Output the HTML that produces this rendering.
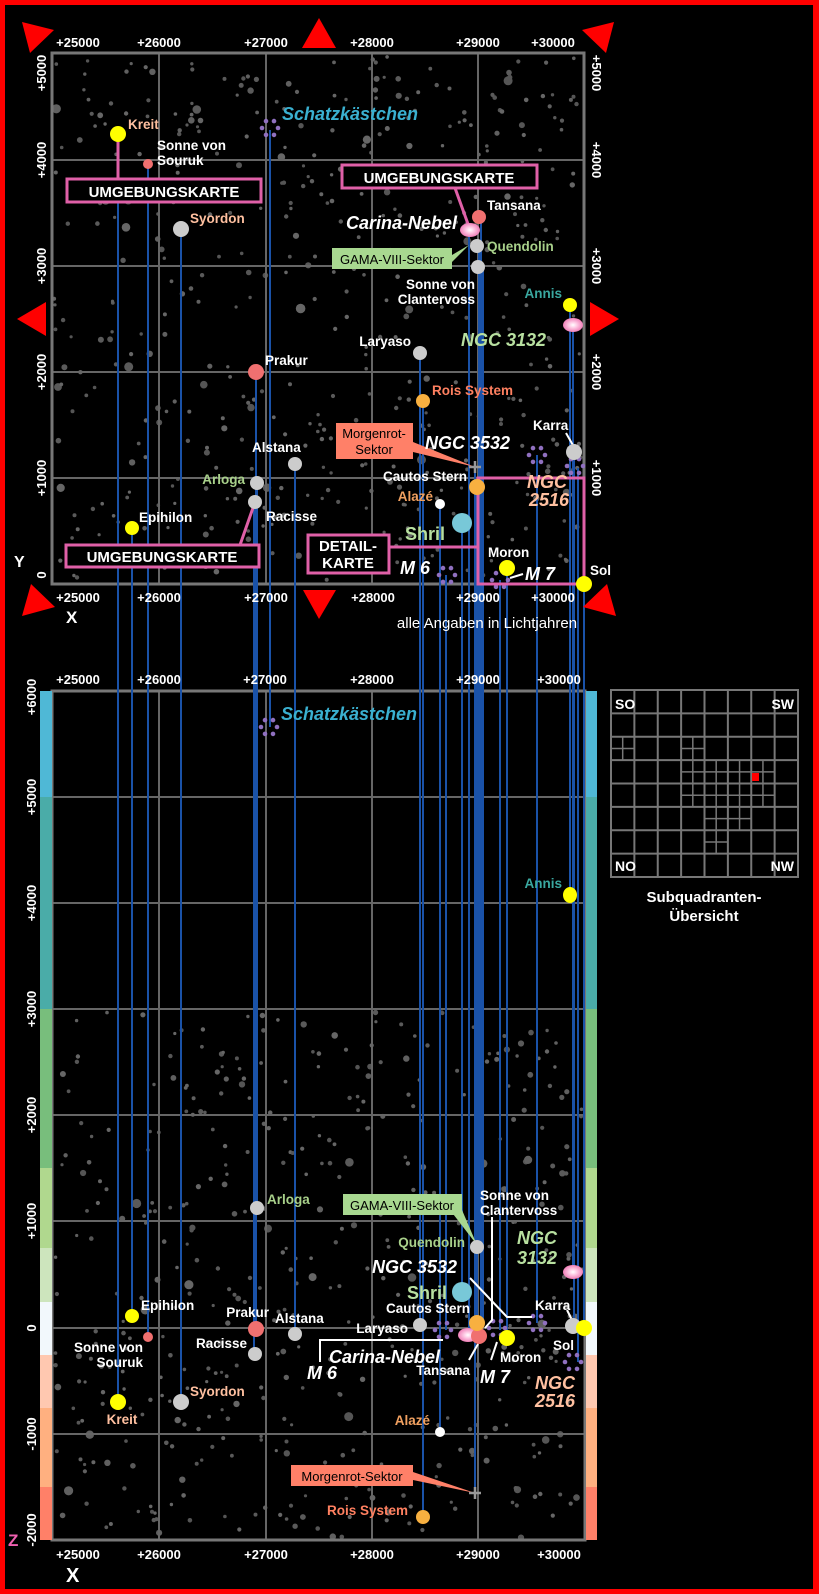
<!DOCTYPE html>
<html><head><meta charset="utf-8">
<style>
html,body{margin:0;padding:0;background:#000;}
svg{display:block;}
text{font-family:"Liberation Sans",sans-serif;font-weight:bold;}
</style></head><body>
<svg id="s" width="819" height="1594" viewBox="0 0 819 1594" xmlns="http://www.w3.org/2000/svg">
<rect x="0" y="0" width="819" height="1594" fill="#f00"/>
<rect x="5" y="5" width="808" height="1584" fill="#000"/>
<g id="stars"></g>
<g id="grid" stroke="#666" stroke-width="2" fill="none">
 <line x1="159" y1="53" x2="159" y2="584"/><line x1="266" y1="53" x2="266" y2="584"/><line x1="372" y1="53" x2="372" y2="584"/><line x1="478" y1="53" x2="478" y2="584"/>
 <line x1="52" y1="160" x2="584" y2="160"/><line x1="52" y1="266" x2="584" y2="266"/><line x1="52" y1="372" x2="584" y2="372"/><line x1="52" y1="478" x2="584" y2="478"/>
 <line x1="159" y1="691" x2="159" y2="1540"/><line x1="266" y1="691" x2="266" y2="1540"/><line x1="372" y1="691" x2="372" y2="1540"/><line x1="478" y1="691" x2="478" y2="1540"/>
 <line x1="52" y1="797" x2="585" y2="797"/><line x1="52" y1="903" x2="585" y2="903"/><line x1="52" y1="1009" x2="585" y2="1009"/><line x1="52" y1="1115" x2="585" y2="1115"/><line x1="52" y1="1221" x2="585" y2="1221"/><line x1="52" y1="1328" x2="585" y2="1328"/><line x1="52" y1="1434" x2="585" y2="1434"/>
</g>
<g stroke="#777" stroke-width="3" fill="none">
 <rect x="52" y="53" width="532" height="531"/>
 <rect x="52" y="691" width="533" height="849"/>
</g>
<g>
 <rect x="40" y="691" width="12" height="106" fill="#4fb8d6"/><rect x="586" y="691" width="11" height="106" fill="#4fb8d6"/>
 <rect x="40" y="797" width="12" height="212" fill="#4aaca8"/><rect x="586" y="797" width="11" height="212" fill="#4aaca8"/>
 <rect x="40" y="1009" width="12" height="159" fill="#78be7c"/><rect x="586" y="1009" width="11" height="159" fill="#78be7c"/>
 <rect x="40" y="1168" width="12" height="80" fill="#b0d88e"/><rect x="586" y="1168" width="11" height="80" fill="#b0d88e"/>
 <rect x="40" y="1248" width="12" height="54" fill="#cde5bd"/><rect x="586" y="1248" width="11" height="54" fill="#cde5bd"/>
 <rect x="40" y="1302" width="12" height="53" fill="#f2f8fc"/><rect x="586" y="1302" width="11" height="53" fill="#f2f8fc"/>
 <rect x="40" y="1355" width="12" height="53" fill="#ffc8b0"/><rect x="586" y="1355" width="11" height="53" fill="#ffc8b0"/>
 <rect x="40" y="1408" width="12" height="79" fill="#ffb080"/><rect x="586" y="1408" width="11" height="79" fill="#ffb080"/>
 <rect x="40" y="1487" width="12" height="53" fill="#ff8068"/><rect x="586" y="1487" width="11" height="53" fill="#ff8068"/>
</g>
<g stroke="#1a52a8" stroke-width="2">
 <line x1="118" y1="134" x2="118" y2="1402"/>
 <line x1="148" y1="164" x2="148" y2="1337"/>
 <line x1="181" y1="229" x2="181" y2="1402"/>
 <line x1="270" y1="130" x2="270" y2="727"/>
 <line x1="256" y1="372" x2="256" y2="1329"/>
 <line x1="257" y1="483" x2="257" y2="1208"/>
 <line x1="254" y1="502" x2="254" y2="1354"/>
 <line x1="295" y1="464" x2="295" y2="1334"/>
 <line x1="132" y1="528" x2="132" y2="1316"/>
 <line x1="420" y1="353" x2="420" y2="1325"/>
 <line x1="423" y1="401" x2="423" y2="1517"/>
 <line x1="440" y1="504" x2="440" y2="1432"/>
 <line x1="462" y1="523" x2="462" y2="1292"/>
 <line x1="475" y1="467" x2="475" y2="1493"/>
 <line x1="477" y1="487" x2="477" y2="1323"/>
 <line x1="537" y1="455" x2="537" y2="1323"/>
 <line x1="574" y1="452" x2="574" y2="1326"/>
 <line x1="578" y1="468" x2="578" y2="1362"/>
 <line x1="584" y1="584" x2="584" y2="1328"/>
 <line x1="507" y1="568" x2="507" y2="1338"/>
 <line x1="500" y1="580" x2="500" y2="1330"/>
 <line x1="446" y1="575" x2="446" y2="1330"/>
 <line x1="469" y1="230" x2="469" y2="1335"/>
 <line x1="481" y1="217" x2="481" y2="1336"/>
 <line x1="479" y1="246" x2="479" y2="1247"/>
 <line x1="483" y1="267" x2="483" y2="1323"/>
 <line x1="570" y1="305" x2="570" y2="895"/>
 <line x1="573" y1="325" x2="573" y2="1272"/>
</g>
<g id="clusters"></g>
<g stroke="#e060a8" stroke-width="3" fill="none">
 <line x1="118" y1="134" x2="118" y2="179"/>
 <line x1="455" y1="188" x2="468" y2="224"/>
 <line x1="240" y1="545" x2="254" y2="505"/>
 <line x1="389" y1="547" x2="478" y2="547"/>
 <rect x="478" y="478" width="106" height="106"/>
</g>
<g stroke="#e060a8" stroke-width="3" fill="#000">
 <rect x="67" y="179" width="194" height="23"/>
 <rect x="342" y="165" width="195" height="23"/>
 <rect x="66" y="545" width="193" height="22"/>
 <rect x="308" y="535" width="81" height="38"/>
</g>
<g fill="#fff" font-size="15" text-anchor="middle">
 <text x="164" y="197">UMGEBUNGSKARTE</text>
 <text x="439" y="183">UMGEBUNGSKARTE</text>
 <text x="162" y="562">UMGEBUNGSKARTE</text>
 <text x="348" y="551">DETAIL-</text>
 <text x="348" y="568">KARTE</text>
</g>
<g stroke="#fff" stroke-width="2" fill="none">
 <line x1="566" y1="433" x2="574" y2="447"/>
 <line x1="510" y1="578" x2="523" y2="574"/>
 <polyline points="470,1278 507,1317 532,1317"/>
 <polyline points="492,1217 492,1320 485,1328"/>
 <polyline points="320,1362 320,1340 443,1340"/>
 <line x1="469" y1="1360" x2="478" y2="1344"/>
 <line x1="491" y1="1360" x2="497" y2="1342"/>
 <line x1="567" y1="1310" x2="572" y2="1320"/>
</g>
<g>
 <polygon points="452,255 469,245 452,262" fill="#a8d890"/>
 <rect x="332" y="248" width="120" height="21" fill="#a8d890"/>
 <text x="392" y="264" font-size="13" fill="#000" text-anchor="middle" style="font-weight:normal">GAMA-VIII-Sektor</text>
 <polygon points="450,1210 462,1210 477,1245" fill="#a8d890"/>
 <rect x="343" y="1194" width="119" height="21" fill="#a8d890"/>
 <text x="402" y="1210" font-size="13" fill="#000" text-anchor="middle" style="font-weight:normal">GAMA-VIII-Sektor</text>
 <polygon points="413,442 413,452 475,467" fill="#ff8068"/>
 <rect x="336" y="423" width="77" height="36" fill="#ff8068"/>
 <text x="374" y="438" font-size="13" fill="#000" text-anchor="middle" style="font-weight:normal">Morgenrot-</text>
 <text x="374" y="454" font-size="13" fill="#000" text-anchor="middle" style="font-weight:normal">Sektor</text>
 <polygon points="413,1472 413,1480 475,1493" fill="#ff8068"/>
 <rect x="291" y="1465" width="122" height="21" fill="#ff8068"/>
 <text x="352" y="1481" font-size="13" fill="#000" text-anchor="middle" style="font-weight:normal">Morgenrot-Sektor</text>
</g>
<g stroke="#999" stroke-width="2.5">
 <line x1="469" y1="467" x2="481" y2="467"/><line x1="475" y1="461" x2="475" y2="473"/>
 <line x1="469" y1="1493" x2="481" y2="1493"/><line x1="475" y1="1487" x2="475" y2="1499"/>
</g>
<defs>
 <radialGradient id="neb"><stop offset="0" stop-color="#fff"/><stop offset="0.35" stop-color="#ffd0e8"/><stop offset="1" stop-color="#f080b8"/></radialGradient>
</defs>
<g>
 <circle cx="118" cy="134" r="8" fill="#ffff00"/><circle cx="118" cy="1402" r="8" fill="#ffff00"/>
 <circle cx="148" cy="164" r="5" fill="#f07070"/><circle cx="148" cy="1337" r="5" fill="#f07070"/>
 <circle cx="181" cy="229" r="8" fill="#ccc"/><circle cx="181" cy="1402" r="8" fill="#ccc"/>
 <circle cx="256" cy="372" r="8" fill="#f07070"/><circle cx="256" cy="1329" r="8" fill="#f07070"/>
 <circle cx="257" cy="483" r="7" fill="#ccc"/><circle cx="257" cy="1208" r="7" fill="#ccc"/>
 <circle cx="255" cy="502" r="7" fill="#ccc"/><circle cx="255" cy="1354" r="7" fill="#ccc"/>
 <circle cx="295" cy="464" r="7" fill="#ccc"/><circle cx="295" cy="1334" r="7" fill="#ccc"/>
 <circle cx="132" cy="528" r="7" fill="#ffff00"/><circle cx="132" cy="1316" r="7" fill="#ffff00"/>
 <circle cx="420" cy="353" r="7" fill="#ccc"/><circle cx="420" cy="1325" r="7" fill="#ccc"/>
 <circle cx="423" cy="401" r="7" fill="#f8b040"/><circle cx="423" cy="1517" r="7" fill="#f8b040"/>
 <circle cx="440" cy="504" r="5" fill="#fff"/><circle cx="440" cy="1432" r="5" fill="#fff"/>
 <circle cx="462" cy="523" r="10" fill="#78c8d8"/><circle cx="462" cy="1292" r="10" fill="#78c8d8"/>
 <circle cx="477" cy="487" r="8" fill="#f8b040"/>
 <circle cx="574" cy="452" r="8" fill="#ccc"/><circle cx="573" cy="1326" r="8" fill="#ccc"/>
 <circle cx="507" cy="568" r="8" fill="#ffff00"/><circle cx="507" cy="1338" r="8" fill="#ffff00"/>
 <ellipse cx="470" cy="230" rx="10" ry="7" fill="url(#neb)"/><ellipse cx="468" cy="1335" rx="10" ry="7" fill="url(#neb)"/>
 <circle cx="479" cy="217" r="7" fill="#f07070"/>
 <circle cx="477" cy="246" r="7" fill="#ccc"/><circle cx="477" cy="1247" r="7" fill="#ccc"/>
 <circle cx="478" cy="267" r="7" fill="#ccc"/>
 <circle cx="479" cy="1336" r="8" fill="#f07070"/>
 <circle cx="477" cy="1323" r="8" fill="#f8b040"/>
 <circle cx="570" cy="305" r="7" fill="#ffff00"/><ellipse cx="570" cy="895" rx="7" ry="8" fill="#ffff00"/>
 <ellipse cx="573" cy="325" rx="10" ry="7" fill="url(#neb)"/><ellipse cx="573" cy="1272" rx="10" ry="7" fill="url(#neb)"/>
 <circle cx="584" cy="584" r="8" fill="#ffff00"/><circle cx="584" cy="1328" r="8" fill="#ffff00"/>
</g>
<g font-size="13.5" fill="#fff">
 <text x="128" y="129" fill="#ffc0a0">Kreit</text>
 <text x="157" y="150">Sonne von</text><text x="157" y="165">Souruk</text>
 <text x="190" y="223" fill="#ffc0a0">Syordon</text>
 <text x="265" y="365">Prakur</text>
 <text x="245" y="484" fill="#a8d08a" text-anchor="end">Arloga</text>
 <text x="266" y="521">Racisse</text>
 <text x="252" y="452">Alstana</text>
 <text x="139" y="522">Epihilon</text>
 <text x="411" y="346" text-anchor="end">Laryaso</text>
 <text x="432" y="395" fill="#ff8060">Rois System</text>
 <text x="433" y="501" fill="#f0a060" text-anchor="end">Alazé</text>
 <text x="467" y="481" text-anchor="end">Cautos Stern</text>
 <text x="533" y="430">Karra</text>
 <text x="590" y="575">Sol</text>
 <text x="488" y="557">Moron</text>
 <text x="487" y="210">Tansana</text>
 <text x="487" y="251" fill="#a8d08a">Quendolin</text>
 <text x="475" y="289" text-anchor="end">Sonne von</text><text x="475" y="304" text-anchor="end">Clantervoss</text>
 <text x="562" y="298" fill="#3aa8a0" text-anchor="end">Annis</text>
 <text x="122" y="1424" fill="#ffc0a0" text-anchor="middle">Kreit</text>
 <text x="143" y="1352" text-anchor="end">Sonne von</text><text x="143" y="1367" text-anchor="end">Souruk</text>
 <text x="190" y="1396" fill="#ffc0a0">Syordon</text>
 <text x="269" y="1317" text-anchor="end">Prakur</text>
 <text x="267" y="1204" fill="#a8d08a">Arloga</text>
 <text x="247" y="1348" text-anchor="end">Racisse</text>
 <text x="275" y="1323">Alstana</text>
 <text x="141" y="1310">Epihilon</text>
 <text x="408" y="1333" text-anchor="end">Laryaso</text>
 <text x="408" y="1515" fill="#ff8060" text-anchor="end">Rois System</text>
 <text x="430" y="1425" fill="#f0a060" text-anchor="end">Alazé</text>
 <text x="470" y="1313" text-anchor="end">Cautos Stern</text>
 <text x="535" y="1310">Karra</text>
 <text x="553" y="1350">Sol</text>
 <text x="500" y="1362">Moron</text>
 <text x="470" y="1375" text-anchor="end">Tansana</text>
 <text x="465" y="1247" fill="#a8d08a" text-anchor="end">Quendolin</text>
 <text x="480" y="1200">Sonne von</text><text x="480" y="1215">Clantervoss</text>
 <text x="562" y="888" fill="#3aa8a0" text-anchor="end">Annis</text>
</g>
<g font-size="18" font-style="italic" fill="#fff">
 <text x="282" y="120" fill="#3ab0d0">Schatzkästchen</text>
 <text x="281" y="720" fill="#3ab0d0">Schatzkästchen</text>
 <text x="457" y="229" text-anchor="end">Carina-Nebel</text>
 <text x="329" y="1363">Carina-Nebel</text>
 <text x="461" y="346" fill="#b8e0a0">NGC 3132</text>
 <text x="537" y="1244" fill="#b8e0a0" text-anchor="middle">NGC</text>
 <text x="537" y="1264" fill="#b8e0a0" text-anchor="middle">3132</text>
 <text x="425" y="449">NGC 3532</text>
 <text x="372" y="1273">NGC 3532</text>
 <text x="547" y="488" fill="#ffc0a0" text-anchor="middle">NGC</text>
 <text x="549" y="506" fill="#ffc0a0" text-anchor="middle">2516</text>
 <text x="555" y="1389" fill="#ffc0a0" text-anchor="middle">NGC</text>
 <text x="555" y="1407" fill="#ffc0a0" text-anchor="middle">2516</text>
 <text x="400" y="574">M 6</text>
 <text x="307" y="1379">M 6</text>
 <text x="525" y="580">M 7</text>
 <text x="480" y="1383">M 7</text>
 <text x="405" y="540" fill="#b8e0a0" font-style="normal">Shril</text>
 <text x="447" y="1299" fill="#b8e0a0" font-style="normal" text-anchor="end">Shril</text>
</g>
<g font-size="13" fill="#fff" text-anchor="middle">
 <text x="78" y="47">+25000</text><text x="159" y="47">+26000</text><text x="266" y="47">+27000</text><text x="372" y="47">+28000</text><text x="478" y="47">+29000</text><text x="553" y="47">+30000</text>
 <text x="78" y="602">+25000</text><text x="159" y="602">+26000</text><text x="266" y="602">+27000</text><text x="373" y="602">+28000</text><text x="478" y="602">+29000</text><text x="553" y="602">+30000</text>
 <text x="78" y="684">+25000</text><text x="159" y="684">+26000</text><text x="265" y="684">+27000</text><text x="372" y="684">+28000</text><text x="478" y="684">+29000</text><text x="559" y="684">+30000</text>
 <text x="78" y="1559">+25000</text><text x="159" y="1559">+26000</text><text x="266" y="1559">+27000</text><text x="372" y="1559">+28000</text><text x="478" y="1559">+29000</text><text x="559" y="1559">+30000</text>
 <text x="487" y="628" font-size="15" style="font-weight:normal">alle Angaben in Lichtjahren</text>
 <g transform="translate(46,73) rotate(-90)"><text>+5000</text></g>
 <g transform="translate(46,160) rotate(-90)"><text>+4000</text></g>
 <g transform="translate(46,266) rotate(-90)"><text>+3000</text></g>
 <g transform="translate(46,372) rotate(-90)"><text>+2000</text></g>
 <g transform="translate(46,478) rotate(-90)"><text>+1000</text></g>
 <g transform="translate(46,575) rotate(-90)"><text>0</text></g>
 <g transform="translate(592,73) rotate(90)"><text>+5000</text></g>
 <g transform="translate(592,160) rotate(90)"><text>+4000</text></g>
 <g transform="translate(592,266) rotate(90)"><text>+3000</text></g>
 <g transform="translate(592,372) rotate(90)"><text>+2000</text></g>
 <g transform="translate(592,478) rotate(90)"><text>+1000</text></g>
 <g transform="translate(36,697) rotate(-90)"><text>+6000</text></g>
 <g transform="translate(36,797) rotate(-90)"><text>+5000</text></g>
 <g transform="translate(36,903) rotate(-90)"><text>+4000</text></g>
 <g transform="translate(36,1009) rotate(-90)"><text>+3000</text></g>
 <g transform="translate(36,1115) rotate(-90)"><text>+2000</text></g>
 <g transform="translate(36,1221) rotate(-90)"><text>+1000</text></g>
 <g transform="translate(36,1328) rotate(-90)"><text>0</text></g>
 <g transform="translate(36,1434) rotate(-90)"><text>-1000</text></g>
 <g transform="translate(36,1530) rotate(-90)"><text>-2000</text></g>
</g>
<text x="14" y="567" font-size="16" fill="#fff">Y</text>
<text x="66" y="623" font-size="17" fill="#fff">X</text>
<text x="66" y="1582" font-size="20" fill="#fff">X</text>
<text x="8" y="1546" font-size="17" fill="#f060b0">Z</text>
<g fill="#f00">
 <polygon points="22,22 54,30 30,53"/>
 <polygon points="302,48 319,18 336,48"/>
 <polygon points="614,22 582,30 606,53"/>
 <polygon points="17,319 46,302 46,336"/>
 <polygon points="619,319 590,302 590,336"/>
 <polygon points="22,616 31,584 55,607"/>
 <polygon points="303,590 336,590 319,619"/>
 <polygon points="616,616 607,584 583,607"/>
</g>
<g id="subq" stroke="#777" stroke-width="2" fill="none"></g>
<rect x="752" y="773" width="7" height="8" fill="#f00"/>
<g fill="#fff" font-size="14">
 <text x="615" y="709">SO</text><text x="794" y="709" text-anchor="end">SW</text>
 <text x="615" y="871">NO</text><text x="794" y="871" text-anchor="end">NW</text>
</g>
<g fill="#fff" font-size="15" text-anchor="middle" style="font-weight:normal">
 <text x="704" y="902">Subquadranten-</text>
 <text x="704" y="921">Übersicht</text>
</g>
</svg>
<script>
(function(){
 var seed=12345;function r(){seed=(seed*1103515245+12345)&0x7fffffff;return seed/0x7fffffff;}
 var g=document.getElementById('stars');var h='';
 function field(x0,y0,w,hh,n){for(var i=0;i<n;i++){var x=x0+r()*w,y=y0+r()*hh;var rr=r();var rad=rr<0.8?1.6+r()*0.7:(rr<0.96?2.5+r()*0.8:3.6+r()*1.2);var c=['#555','#5a5a5a','#606060','#666'][Math.floor(r()*4)];h+='<circle cx="'+x.toFixed(1)+'" cy="'+y.toFixed(1)+'" r="'+rad.toFixed(1)+'" fill="'+c+'"/>';}}
 field(54,55,528,527,480);
 field(54,1011,529,527,470);
 g.innerHTML=h;
 var cl=[[270,128],[269,727],[537,455],[537,1323],[575,466],[573,1362],[500,580],[447,575],[443,1330],[497,1328]];
 var ch='';
 cl.forEach(function(p){for(var k=0;k<6;k++){var a=k*Math.PI/3;ch+='<circle cx="'+(p[0]+8*Math.cos(a)).toFixed(1)+'" cy="'+(p[1]+8*Math.sin(a)).toFixed(1)+'" r="2.3" fill="#9070c0"/>';}});
 document.getElementById('clusters').innerHTML=ch;
 var s='';var x0=611,y0=690,W=187,H=187,n=8,cw=W/n;
 s+='<rect x="'+x0+'" y="'+y0+'" width="'+W+'" height="'+H+'"/>';
 for(var i=1;i<n;i++){s+='<line x1="'+(x0+i*cw)+'" y1="'+y0+'" x2="'+(x0+i*cw)+'" y2="'+(y0+H)+'"/>';s+='<line x1="'+x0+'" y1="'+(y0+i*cw)+'" x2="'+(x0+W)+'" y2="'+(y0+i*cw)+'"/>';}
 var sub=[[3,3],[3,4],[4,3],[4,4],[5,3],[5,4],[6,3],[6,4],[4,5],[5,5],[4,6],[3,2],[0,2]];
 sub.forEach(function(c){var x=x0+c[0]*cw,y=y0+c[1]*cw;s+='<line x1="'+(x+cw/2)+'" y1="'+y+'" x2="'+(x+cw/2)+'" y2="'+(y+cw)+'" stroke-width="1.5"/><line x1="'+x+'" y1="'+(y+cw/2)+'" x2="'+(x+cw)+'" y2="'+(y+cw/2)+'" stroke-width="1.5"/>';});
 document.getElementById('subq').innerHTML=s;
})();
</script>
</body></html>
